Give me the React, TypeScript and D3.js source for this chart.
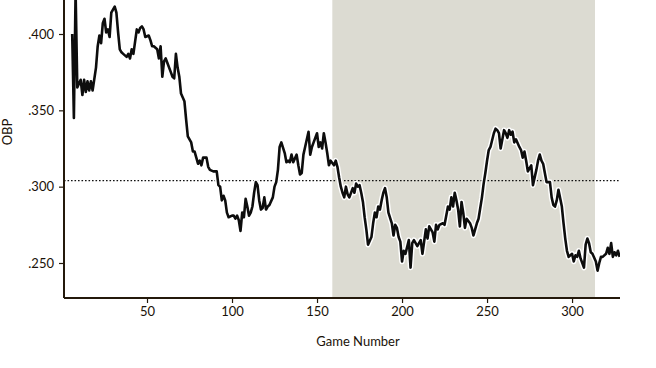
import React, { useRef, useEffect } from 'react';
import * as d3 from 'd3';

// rolling OBP
const games = [
  6, 7, 8, 9, 11, 12, 13, 14, 15, 16, 17, 18, 20, 21, 22, 23, 24, 25, 26, 27, 28, 29, 31, 32, 33, 34, 35, 36, 38, 39,
  40, 41, 42, 44, 45, 46, 47, 48, 49, 51, 52, 53, 54, 55, 56, 57, 58, 59, 60, 61, 62, 64, 65, 66, 67, 68, 69, 70, 72, 73,
  74, 76, 77, 78, 79, 80, 81, 82, 83, 85, 86, 87, 89, 90, 91, 92, 93, 94, 95, 96, 97, 98, 100, 101, 102, 103, 104, 105, 106, 107,
  108, 109, 110, 111, 112, 113, 114, 115, 116, 117, 118, 119, 120, 121, 122, 124, 125, 126, 127, 128, 129, 131, 132, 133, 134, 135, 136, 138, 139, 140,
  141, 142, 143, 145, 146, 147, 148, 150, 151, 152, 153, 154, 155, 156, 157, 158, 160, 161, 162, 163, 164, 165, 166, 167, 168, 169, 171, 172, 173, 174,
  175, 176, 177, 178, 179, 180, 182, 183, 184, 185, 186, 187, 188, 189, 190, 191, 192, 194, 195, 196, 197, 198, 199, 200, 201, 202, 204, 205, 206, 207,
  208, 209, 211, 212, 213, 214, 215, 216, 218, 219, 220, 221, 222, 224, 225, 226, 227, 228, 229, 230, 231, 232, 233, 234, 235, 236, 237, 238, 240, 241,
  242, 243, 244, 245, 247, 248, 249, 250, 251, 252, 254, 255, 256, 257, 258, 260, 261, 262, 263, 264, 265, 266, 267, 269, 270, 271, 272, 273, 274, 276,
  277, 279, 280, 281, 282, 283, 284, 285, 287, 288, 289, 290, 291, 292, 294, 295, 296, 297, 298, 300, 301, 302, 303, 304, 305, 307, 308, 309, 310, 311,
  312, 314, 315, 316, 317, 318, 320, 321, 322, 323, 324, 325, 326, 327, 328
];
const obp = [
  .400, .345, .428, .365, .370, .360, .370, .362, .369, .363, .369, .363, .378, .392, .399, .394, .407, .410, .401, .403, .398, .414, .418, .414, .401, .390, .388, .387, .385, .387,
  .384, .390, .387, .403, .401, .404, .405, .403, .398, .399, .396, .392, .392, .391, .390, .384, .392, .372, .382, .384, .381, .375, .372, .371, .387, .378, .372, .361, .356, .344,
  .333, .329, .323, .323, .319, .315, .317, .314, .319, .319, .313, .311, .310, .310, .310, .301, .300, .291, .294, .291, .283, .280, .281, .281, .279, .281, .278, .271, .283, .280,
  .292, .287, .281, .283, .287, .296, .303, .301, .291, .285, .286, .293, .285, .287, .288, .293, .300, .303, .311, .326, .329, .322, .316, .317, .316, .321, .316, .321, .314, .308,
  .309, .321, .326, .336, .321, .326, .329, .335, .326, .329, .325, .335, .329, .322, .314, .317, .314, .317, .313, .306, .300, .296, .293, .300, .295, .293, .299, .296, .302, .300,
  .301, .296, .290, .280, .272, .262, .267, .276, .283, .280, .287, .285, .291, .296, .299, .293, .283, .276, .268, .275, .273, .267, .264, .251, .258, .256, .265, .247, .263, .265,
  .263, .261, .265, .256, .264, .272, .266, .274, .270, .264, .275, .272, .275, .276, .275, .281, .287, .285, .293, .287, .296, .291, .285, .274, .290, .283, .273, .279, .276, .273,
  .268, .272, .276, .279, .293, .302, .309, .317, .324, .326, .335, .338, .337, .335, .325, .337, .335, .332, .337, .334, .336, .329, .331, .326, .324, .319, .323, .317, .310, .314,
  .301, .311, .317, .321, .317, .315, .309, .303, .303, .293, .288, .287, .291, .298, .287, .276, .266, .258, .254, .256, .251, .255, .254, .258, .253, .247, .262, .266, .263, .257,
  .256, .251, .245, .250, .254, .254, .256, .260, .256, .263, .254, .257, .255, .258, .254
];
const meanObp = 0.304;
const shadedGames = [159, 313.5];
const xTicks = [50, 100, 150, 200, 250, 300];
const yTicks = [0.25, 0.3, 0.35, 0.4];

function App() {
  const ref = useRef(null);
  useEffect(() => {
    const svg = d3.select(ref.current);
    svg.selectAll('*').remove();
    const left = 64, right = 620, top = 0, bottom = 298;
    const ink = '#24190b';

    const x = d3.scaleLinear().domain([1.18, 328.2]).range([left, right]);
    const y = d3.scaleLinear().domain([0.22707, 0.42227]).range([bottom, top]);

    svg.append('defs').append('clipPath').attr('id', 'plotclip')
      .append('rect').attr('x', left).attr('y', top).attr('width', right - left).attr('height', bottom - top);

    svg.append('rect')
      .attr('x', x(shadedGames[0]))
      .attr('y', top)
      .attr('width', x(shadedGames[1]) - x(shadedGames[0]))
      .attr('height', bottom - top)
      .attr('fill', '#dcdbd2');

    svg.append('line')
      .attr('x1', left).attr('x2', right)
      .attr('y1', y(meanObp)).attr('y2', y(meanObp))
      .attr('stroke', '#111').attr('stroke-width', 1.3)
      .attr('stroke-dasharray', '1.6,1.9');

    const pts = games.map((g, i) => [g, obp[i]]);
    const line = d3.line().x(d => x(d[0])).y(d => y(d[1]));
    const g = svg.append('g').attr('clip-path', 'url(#plotclip)');
    g.append('path').datum(pts).attr('d', line)
      .attr('fill', 'none').attr('stroke', '#fff').attr('stroke-width', 5.5)
      .attr('stroke-linejoin', 'round');
    g.append('path').datum(pts).attr('d', line)
      .attr('fill', 'none').attr('stroke', '#0d0d0d').attr('stroke-width', 2.6)
      .attr('stroke-linejoin', 'round');

    const fmt = v => d3.format('.3f')(v).replace(/^0/, '');

    const yAxis = svg.append('g')
      .attr('transform', 'translate(' + left + ',0)')
      .call(d3.axisLeft(y).tickValues(yTicks).tickFormat(fmt).tickSize(5).tickPadding(5));
    const xAxis = svg.append('g')
      .attr('transform', 'translate(0,' + bottom + ')')
      .call(d3.axisBottom(x).tickValues(xTicks).tickSize(5).tickPadding(4));

    [xAxis, yAxis].forEach(a => {
      a.select('.domain').attr('stroke', ink).attr('stroke-width', 2);
      a.selectAll('.tick line').attr('stroke', ink).attr('stroke-width', 1.2);
      a.selectAll('.tick text').attr('fill', '#1a1208')
        .attr('font-family', 'Lato, sans-serif').attr('font-size', 13);
    });
    yAxis.select('.domain').attr('d', 'M0,' + top + 'V' + bottom);
    xAxis.select('.domain').attr('d', 'M' + left + ',0H' + right);

    svg.append('text')
      .attr('x', (left + right) / 2 + 16).attr('y', 346)
      .attr('text-anchor', 'middle')
      .attr('font-family', 'Lato, sans-serif').attr('font-size', 13)
      .attr('fill', '#1a1208')
      .text('Game Number');

    svg.append('text')
      .attr('transform', 'translate(12,132) rotate(-90)')
      .attr('text-anchor', 'middle')
      .attr('font-family', 'Lato, sans-serif').attr('font-size', 13)
      .attr('fill', '#1a1208')
      .text('OBP');
  }, []);
  return (
    <svg ref={ref} width="656" height="368" style={{ position: 'absolute', left: 0, top: 0, background: '#fff' }}></svg>
  );
}

export default App;
